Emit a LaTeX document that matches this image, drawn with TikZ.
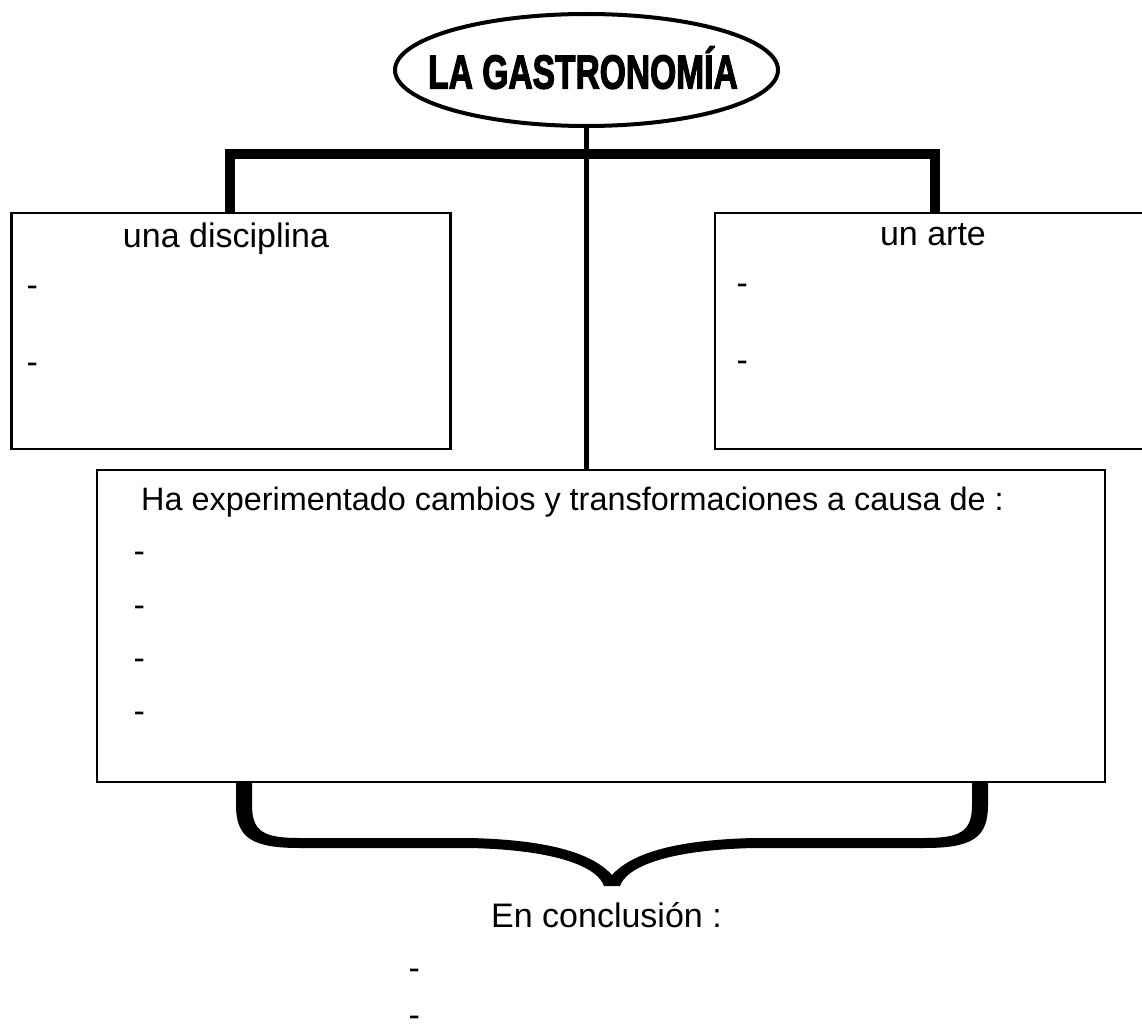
\documentclass[tikz,border=0pt]{standalone}
\usepackage{fontspec}
\setmainfont{Liberation Sans}
\newfontfamily\titlefont[FakeBold=3]{Liberation Sans Bold}
\usetikzlibrary{shapes.geometric}
\tikzset{
  x=1pt, y=-1pt,
  box/.style={draw, line width=2.5pt, rectangle, inner sep=0pt},
  lbl/.style={inner sep=0pt, font=\fontsize{34pt}{40pt}\selectfont},
  dashitem/.style={lbl, anchor=base west},
  thinlink/.style={line width=5pt},
  barlink/.style={line width=10pt, line join=miter},
}
\begin{document}
\begin{tikzpicture}
\useasboundingbox (0,0) rectangle (1142,1027);
% title
\node[draw, ellipse, line width=4pt, minimum width=383pt, minimum height=112pt, inner sep=0pt] (title) at (586.5,70) {};
\node[anchor=base, inner sep=0pt] (titletext) at (583,88.5) {\scalebox{0.79}[1.12]{\titlefont\fontsize{42.5pt}{50pt}\selectfont LA GASTRONOMÍA}};
% boxes
\node[box, minimum width=439pt, minimum height=236pt] (disc) at (231.2,331) {};
\node[box, minimum width=455pt, minimum height=236pt] (arte) at (942.5,331) {};
\node[box, minimum width=1008pt, minimum height=312pt] (causas) at (601,626) {};
% connectors
\coordinate (stubL) at (230,154);
\coordinate (stubR) at (935,154);
\draw[barlink] (stubL |- disc.north) -- (stubL) -- (stubR) -- (stubR |- arte.north);
\draw[thinlink] (title.south -| 586,0) -- (causas.north -| 586,0);
% texts in left box
\node[lbl, anchor=base] (t1) at (226,247) {una disciplina};
\node[dashitem] (d1) at (26.5,296.5) {-};
\node[dashitem] (d2) at (26.5,373.5) {-};
% right box
\node[lbl, anchor=base] (t2) at (933,245) {un arte};
\node[dashitem] (d3) at (736.5,294.5) {-};
\node[dashitem] (d4) at (736.5,371.5) {-};
% middle box
\node[lbl, anchor=base west, font=\fontsize{32.4pt}{38pt}\selectfont] (t3) at (141,510) {Ha experimentado cambios y transformaciones a causa de :};
\node[dashitem] (d5) at (133.5,562.5) {-};
\node[dashitem] (d6) at (133.5,616.5) {-};
\node[dashitem] (d7) at (133.5,669.5) {-};
\node[dashitem] (d8) at (133.5,722.5) {-};
% brace
\fill (236,782) -- (236,805) .. controls (236,838) and (252,848) .. (300,848) -- (470,848)
  .. controls (560,850) and (598,868) .. (604,886) -- (620,886)
  .. controls (626,868) and (664,850) .. (754,848) -- (924,848)
  .. controls (972,848) and (988,838) .. (988,805) -- (988,782) -- (972,782) -- (972,805)
  .. controls (972,832) and (960,838) .. (924,838) -- (754,838)
  .. controls (670,840) and (630,855) .. (612,875)
  .. controls (594,855) and (554,840) .. (470,838) -- (300,838)
  .. controls (264,838) and (252,832) .. (252,805) -- (252,782) -- cycle;
% conclusion
\node[lbl, anchor=base west] (t4) at (491,927) {En conclusión :};
\node[dashitem] (d9) at (408.5,979.5) {-};
\node[dashitem] (d10) at (408.5,1026.5) {-};
\end{tikzpicture}
\end{document}
